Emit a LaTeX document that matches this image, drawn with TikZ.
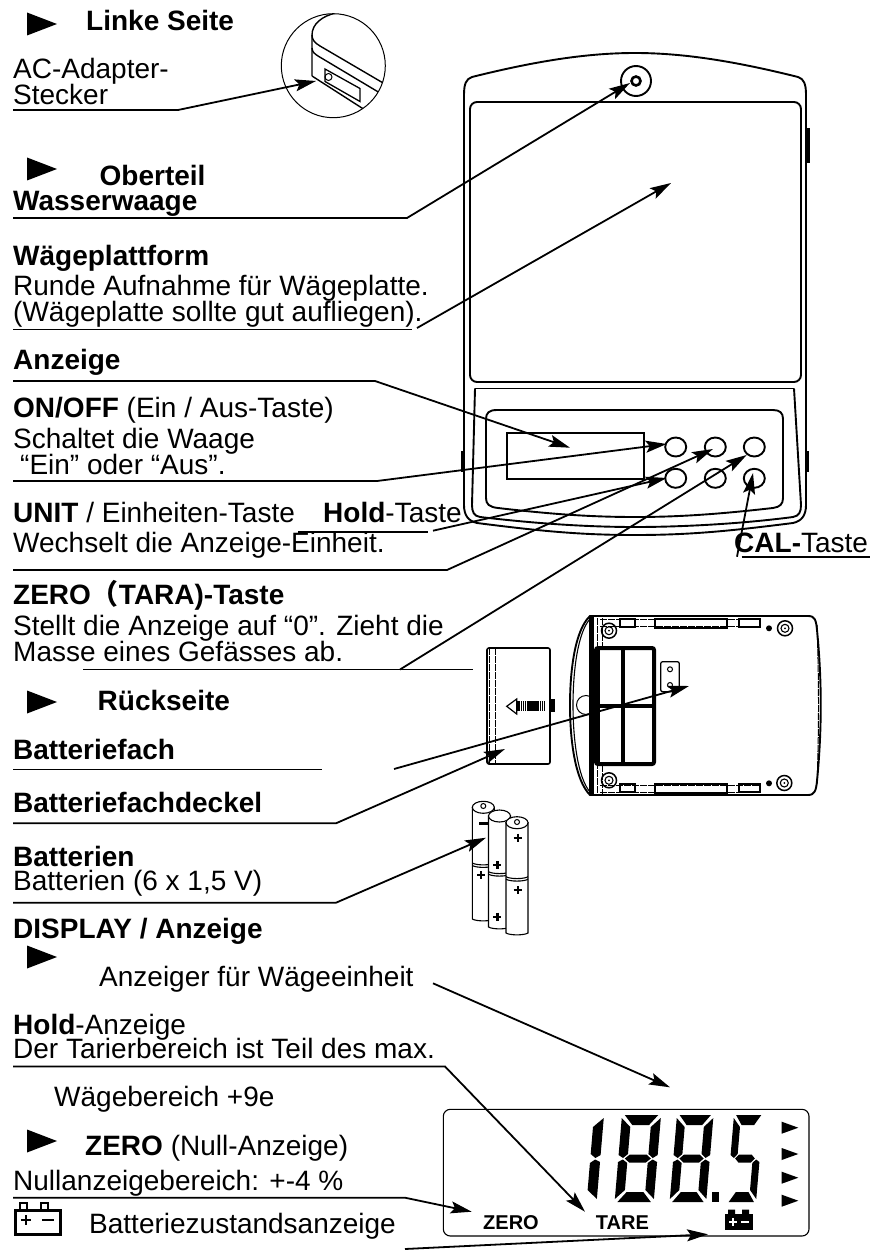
\documentclass[tikz,border=0pt]{standalone}
\usepackage{fontspec}
\setmainfont{Liberation Sans}
\newfontfamily\cjkfont{Noto Sans CJK SC}
\usetikzlibrary{arrows.meta}

% segments of one LCD digit
\newcommand\segA{\fill (3,0) -- (39,0) -- (30,10) -- (12,10) -- cycle;}
\newcommand\segB{\fill (32,12) -- (42,3) -- (42,40) -- (37,43) -- (32,39) -- cycle;}
\newcommand\segC{\fill (32,48) -- (37,44.5) -- (42,47) -- (42,84) -- (32,75) -- cycle;}
\newcommand\segD{\fill (12,77) -- (30,77) -- (39,87) -- (3,87) -- cycle;}
\newcommand\segE{\fill (0,47) -- (5,44.5) -- (10,48) -- (10,75) -- (0,84) -- cycle;}
\newcommand\segF{\fill (0,3) -- (10,12) -- (10,39) -- (5,43) -- (0,40) -- cycle;}
\newcommand\segG{\fill (12,39.5) -- (30,39.5) -- (35,43.5) -- (30,47.5) -- (12,47.5) -- (7,43.5) -- cycle;}

\tikzset{
    txt/.style={anchor=base west, inner sep=0pt, font=\fontsize{28pt}{30pt}\selectfont},
    lcdtxt/.style={anchor=base west, inner sep=0pt, font=\bfseries\fontsize{20pt}{20pt}\selectfont},
    leader/.style={line width=1.6pt},
    pointer/.style={line width=1.8pt, -{Stealth[length=21pt,width=12pt,inset=4pt]}},
    body/.style={line width=1.9pt},
    rail/.style={line width=1pt, dash pattern=on 7pt off 1pt},
}

\begin{document}
\begin{tikzpicture}[x=1pt,y=-1pt]
    \useasboundingbox (0,0) rectangle (870,1252);

    % section markers
    \foreach \y in {24,169,702,957,1141}
        \fill (27,\y-11.5) -- (57,\y) -- (27,\y+11.5) -- cycle;

    % left column
    \node[txt] (linke) at (86,31) {\textbf{Linke Seite}};
    \node[txt] (adapter) at (13,78.5) {AC-Adapter-};
    \node[txt] (stecker) at (13,105) {Stecker};
    \node[txt] (oberteil) at (99.5,185.5) {\textbf{Oberteil}};
    \node[txt] (wasser) at (13,211) {\textbf{Wasserwaage}};
    \node[txt] (platt) at (13,265) {\textbf{Wägeplattform}};
    \node[txt] (runde) at (13,295.5) {Runde Aufnahme für Wägeplatte.};
    \node[txt] (sollte) at (13,321.5) {(Wägeplatte sollte gut aufliegen).};
    \node[txt] (anzeige) at (13,369) {\textbf{Anzeige}};
    \node[txt] (onoff) at (13,417) {\textbf{ON/OFF} (Ein / Aus-Taste)};
    \node[txt] (schaltet) at (13,448) {Schaltet die Waage};
    \node[txt] (einaus) at (20,474) {“Ein” oder “Aus”.};
    \node[txt] (unit) at (13,522) {\textbf{UNIT} / Einheiten-Taste};
    \node[txt] (hold) at (323,522) {\textbf{Hold}-Taste};
    \node[txt] (wechselt) at (13,552) {Wechselt die Anzeige-Einheit.};
    \node[txt] (cal) at (734,552) {\textbf{CAL-}Taste};
    \node[txt] (zero) at (13,604) {\textbf{ZERO{\cjkfont （}TARA)-Taste}};
    \node[txt] (stellt) at (13,635) {Stellt die Anzeige auf “0”. Zieht die};
    \node[txt] (masse) at (13,661) {Masse eines Gefässes ab.};
    \node[txt] (rueck) at (97.5,710) {\textbf{Rückseite}};
    \node[txt] (fach) at (13,759) {\textbf{Batteriefach}};
    \node[txt] (deckel) at (13,812.5) {\textbf{Batteriefachdeckel}};
    \node[txt] (batt) at (13,866.5) {\textbf{Batterien}};
    \node[txt] (batt6) at (13,890.5) {Batterien (6 x 1,5 V)};
    \node[txt] (display) at (13,938) {\textbf{DISPLAY / Anzeige}};
    \node[txt] (einheit) at (99,986.5) {Anzeiger für Wägeeinheit};
    \node[txt] (holdanz) at (13,1034) {\textbf{Hold}-Anzeige};
    \node[txt] (tarier) at (13,1058) {Der Tarierbereich ist Teil des max.};
    \node[txt] (bereich) at (54,1106) {Wägebereich +9e};
    \node[txt] (nullanz) at (85,1155) {\textbf{ZERO} (Null-Anzeige)};
    \node[txt] (nullber) at (13,1190) {Nullanzeigebereich: +-4 \%};
    \node[txt] (zustand) at (89,1233) {Batteriezustandsanzeige};

    % battery symbol beside the text
    \draw[line width=3pt] (15,1210) rectangle (60,1234);
    \draw[line width=1.6pt] (20,1210) -- (20,1203) -- (27,1203) -- (27,1210);
    \draw[line width=1.6pt] (41,1210) -- (41,1203) -- (48,1203) -- (48,1210);
    \draw[line width=2.4pt] (21,1220) -- (31,1220) (26,1215) -- (26,1225) (42,1220) -- (54,1220);

    % detail of the side
    \draw[line width=1pt] (333.3,65.7) circle (52);
    \begin{scope}
        \clip (333.3,65.7) circle (52);
        \draw[line width=1.4pt] (336,13) .. controls (322,16) and (312,24) .. (312,35) -- (312,76);
        \draw[line width=1.4pt] (312,35) .. controls (312,40) and (315,43) .. (320,46) -- (390,87);
        \draw[line width=1.4pt] (312,48) .. controls (312,52) and (315,54) .. (318,56) -- (385,96);
        \draw[line width=1.4pt] (312,76) -- (365,110);
        \draw[line width=1.3pt] (325,69) -- (360,88.5) -- (360,101.5) -- (325,81.5) -- cycle;
        \draw[line width=1pt] (328.5,77) circle (3.5);
    \end{scope}

    % scale seen from above
    \draw[body] (464,95) .. controls (464,84) and (466,79) .. (472,77)
        .. controls (540,60) and (590,53) .. (635,53)
        .. controls (680,53) and (730,60) .. (798,77)
        .. controls (804,79) and (806,84) .. (806,95)
        -- (806,505) .. controls (806,515) and (802,521) .. (793,523)
        .. controls (730,531) and (690,535) .. (635,535)
        .. controls (580,535) and (540,531) .. (477,523)
        .. controls (468,521) and (464,515) .. (464,505) -- cycle;
    \draw[body, rounded corners=7pt] (470,382) rectangle (801,102);
    \draw[body] (475,388.5) -- (794,388.5);
    \draw[body] (475,388.5) -- (472,505) .. controls (472,512) and (474,516) .. (480,517)
        .. controls (540,524) and (590,527) .. (635,527)
        .. controls (680,527) and (740,524) .. (793,517)
        .. controls (799,516) and (801,512) .. (801,505) -- (794,388.5);
    \draw[body] (636,81) circle (15);
    \draw[line width=2.6pt] (636,81) circle (4.5);
    \draw[line width=3pt] (808,128) -- (808,163);
    \draw[line width=2.6pt] (462,451) -- (462,472);
    \draw[line width=2.6pt] (807.5,451) -- (807.5,472);
    \draw[body] (497,410) -- (773,410) .. controls (780,410) and (783,413) .. (783,419)
        -- (783,498) .. controls (783,504) and (780,507) .. (773,508)
        .. controls (720,514) and (680,517) .. (635,517)
        .. controls (590,517) and (550,514) .. (498,508)
        .. controls (489,507) and (486,504) .. (486,498) -- (486,419)
        .. controls (486,413) and (489,410) .. (497,410) -- cycle;
    \draw[body] (506.7,432.7) rectangle (644,479.3);
    \foreach \x in {675.7,715.3,754.3}
        \foreach \y in {447,478.3}
            \draw[body] (\x,\y) ellipse (10.5 and 9.5);

    % cover with slide arrow
    \draw[line width=1.6pt, rounded corners=2pt] (487,648) rectangle (550,764);
    \draw[rail] (489,648) -- (489,764) (495,648) -- (495,764);
    \draw[line width=1.2pt] (506.7,706.3) -- (516.7,699) -- (516.7,714) -- cycle;
    \draw[line width=10pt, dash pattern=on 1.5pt off 0.4pt] (517,706) -- (545,706);
    \fill (550,699) rectangle (555,712);

    % scale seen from below
    \draw[body] (590,616) -- (808,616) .. controls (815,616) and (816,620) .. (817,630)
        .. controls (822,680) and (822,730) .. (817,781)
        .. controls (816,790) and (815,795) .. (808,795) -- (590,795)
        .. controls (575,780) and (570,740) .. (570,705)
        .. controls (570,670) and (575,630) .. (590,616) -- cycle;
    \draw[line width=1.1pt] (590,619) .. controls (578,632) and (573,670) .. (573,705)
        .. controls (573,740) and (578,778) .. (590,792);
    \draw[rail] (817,625) .. controls (819,680) and (819,730) .. (817,785);
    \draw[line width=1pt, fill=white] (586,705) circle (9.5);
    \draw[line width=5pt] (591,616) -- (591,795);
    \draw[rail] (597,618) -- (597,795) (602,618) -- (602,646);
    \draw[rail] (602,765) -- (602,795);
    \foreach \y in {619,626,785,792}
        \draw[rail] (600,\y) -- (760,\y);
    \foreach \y in {619,784}
    {
        \draw[line width=1.1pt] (620,\y) rectangle (635,\y+8);
        \draw[line width=1.1pt] (655,\y) rectangle (727,\y+9);
        \draw[line width=1.1pt] (739,\y) rectangle (760,\y+8);
    }
    \draw[line width=4pt, rounded corners=2pt] (596,648) rectangle (654,764);
    \draw[line width=3pt] (598,648) -- (598,764);
    \draw[line width=4pt] (623,648) -- (623,764) (595,706) -- (654,706);
    \draw[line width=1.3pt, rounded corners=2pt] (660.7,661.7) rectangle (679.3,691.7);
    \foreach \y in {669.3,685}
        \draw[line width=1pt] (670,\y) circle (2.5);
    \foreach \x/\y in {609/630.7,785/628.3,609/780.3,784.3/783}
    {
        \draw[line width=1.5pt] (\x,\y) circle (7.5);
        \draw[line width=1.1pt] (\x,\y) circle (4);
        \fill (\x,\y) circle (1);
    }
    \fill (769,628.3) circle (3);
    \fill (769,783.3) circle (3);

    % batteries
    \foreach \x/\top/\bot/\rim in {483.3/807.3/919/863,499.5/816/927/871.7,517/822.7/933/876.7}
    {
        \draw[line width=1.1pt, fill=white] (\x-11,\top) -- (\x-11,\bot)
            .. controls (\x-7,\bot+2.5) and (\x+7,\bot+2.5) .. (\x+11,\bot) -- (\x+11,\top) -- cycle;
        \draw[line width=1.1pt, fill=white] (\x,\top) ellipse (11 and 6);
        \draw[line width=1.1pt] (\x-11,\rim) .. controls (\x-7,\rim+2.5) and (\x+7,\rim+2.5) .. (\x+11,\rim);
        \draw[line width=1.1pt] (\x-11,\rim+2.5) .. controls (\x-7,\rim+5) and (\x+7,\rim+5) .. (\x+11,\rim+2.5);
    }
    \draw[line width=1pt] (483.3,806) circle (2.5);
    \draw[line width=1pt] (517,822) circle (2.5);
    \foreach \x/\y in {517.7/837.7,517.7/890,497.3/865,497.3/916.7,481/875}
        \draw[line width=2.4pt] (\x-4,\y) -- (\x+4,\y) (\x,\y-4) -- (\x,\y+4);
    \draw[line width=2.4pt] (479,823.3) -- (488,823.3);

    % LCD panel
    \draw[line width=1.1pt, rounded corners=7pt] (443.3,1109.3) rectangle (809,1236);
    \begin{scope}[shift={(562,1115)}, xslant=0.085]
        \segB \segC
    \end{scope}
    \begin{scope}[shift={(622,1115)}, xslant=0.085, xscale=0.93]
        \segA \segB \segC \segD \segE \segF \segG
    \end{scope}
    \begin{scope}[shift={(677,1115)}, xslant=0.085, xscale=0.87]
        \segA \segB \segC \segD \segE \segF \segG
    \end{scope}
    \begin{scope}[shift={(734,1115)}, xslant=0.085, xscale=0.7]
        \segA \segC \segD \segF \segG
    \end{scope}
    \fill (711.7,1192) rectangle (718.5,1202);
    \foreach \y in {1127.7,1154,1177.7,1200.7}
        \fill (781.7,\y-6) -- (798.3,\y) -- (781.7,\y+6) -- cycle;
    \node[lcdtxt] (lcdzero) at (483,1229.3) {ZERO};
    \node[lcdtxt] (lcdtare) at (595.7,1229.3) {TARE};
    \fill (725,1214) rectangle (752.7,1230);
    \fill (728,1209.5) rectangle (735,1214) (742,1209.5) rectangle (749,1214);
    \draw[white, line width=1.6pt] (729,1222) -- (737,1222) (733,1218) -- (733,1226) (741,1222) -- (749,1222);

    % connector ends
    \coordinate (adapterL) at (13,110);
    \coordinate (adapterM) at (178,110);
    \coordinate (adapterT) at (316,81);
    \coordinate (waageL) at (13,218);
    \coordinate (waageM) at (407,218);
    \coordinate (waageT) at (630,83);
    \coordinate (plattL) at (13,329.5);
    \coordinate (plattR) at (412,329.5);
    \coordinate (plattM) at (417,328);
    \coordinate (plattT) at (671,183);
    \coordinate (anzL) at (13,381);
    \coordinate (anzM) at (375,381);
    \coordinate (anzT) at (570,447.7);
    \coordinate (onoffL) at (13,481);
    \coordinate (onoffM) at (377,481);
    \coordinate (onoffT) at (666.7,444);
    \coordinate (holdL) at (298,531.7);
    \coordinate (holdR) at (428,531.7);
    \coordinate (holdM) at (433,530.7);
    \coordinate (holdT) at (666.7,478);
    \coordinate (unitL) at (13,570);
    \coordinate (unitM) at (447,570);
    \coordinate (unitT) at (713,449);
    \coordinate (zeroL) at (83,669.5);
    \coordinate (zeroR) at (472.5,669.5);
    \coordinate (zeroM) at (400,669.5);
    \coordinate (zeroT) at (746.7,455);
    \coordinate (calL) at (741.7,556.7);
    \coordinate (calR) at (870,556.7);
    \coordinate (calM) at (737,556.7);
    \coordinate (calT) at (753,473);
    \coordinate (fachL) at (13,769.3);
    \coordinate (fachR) at (322,769.3);
    \coordinate (fachM) at (394,769);
    \coordinate (fachT) at (689,686);
    \coordinate (deckelL) at (13,823.3);
    \coordinate (deckelM) at (336,823.3);
    \coordinate (deckelT) at (505,749);
    \coordinate (battL) at (13,902.7);
    \coordinate (battM) at (336,902.7);
    \coordinate (battT) at (486,837.7);
    \coordinate (einheitM) at (433,983.3);
    \coordinate (einheitT) at (670,1087.3);
    \coordinate (tarierL) at (13,1066.5);
    \coordinate (tarierM) at (445,1066.5);
    \coordinate (tarierT) at (585,1211.7);
    \coordinate (nullL) at (13,1197.7);
    \coordinate (nullM) at (405,1197.7);
    \coordinate (nullT) at (471.7,1211.7);
    \coordinate (zustandM) at (405,1249);
    \coordinate (zustandT) at (708,1234.3);

    % connectors
    \draw[pointer] (adapterL) -- (adapterM) -- (adapterT);
    \draw[pointer] (waageL) -- (waageM) -- (waageT);
    \draw[leader] (plattL) -- (plattR);
    \draw[pointer] (plattM) -- (plattT);
    \draw[pointer] (anzL) -- (anzM) -- (anzT);
    \draw[pointer] (onoffL) -- (onoffM) -- (onoffT);
    \draw[leader] (holdL) -- (holdR);
    \draw[pointer] (holdM) -- (holdT);
    \draw[pointer] (unitL) -- (unitM) -- (unitT);
    \draw[leader] (zeroL) -- (zeroR);
    \draw[pointer] (zeroM) -- (zeroT);
    \draw[leader] (calL) -- (calR);
    \draw[pointer] (calM) -- (calT);
    \draw[leader] (fachL) -- (fachR);
    \draw[pointer] (fachM) -- (fachT);
    \draw[pointer] (deckelL) -- (deckelM) -- (deckelT);
    \draw[pointer] (battL) -- (battM) -- (battT);
    \draw[pointer] (einheitM) -- (einheitT);
    \draw[pointer] (tarierL) -- (tarierM) -- (tarierT);
    \draw[pointer] (nullL) -- (nullM) -- (nullT);
    \draw[pointer] (zustandM) -- (zustandT);
\end{tikzpicture}
\end{document}
